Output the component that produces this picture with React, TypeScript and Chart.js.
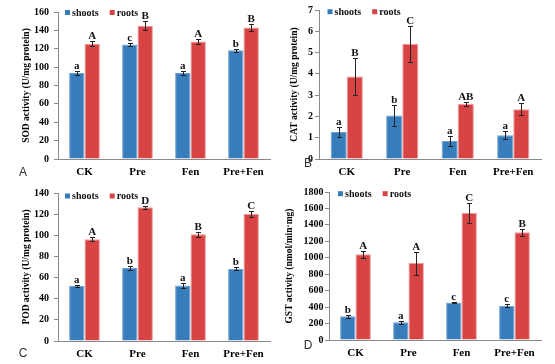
import React, { useEffect, useRef } from "react";
import { Chart, registerables } from "chart.js";

Chart.register(...registerables);

// ---------- data ----------
const categories = ["CK", "Pre", "Fen", "Pre+Fen"];
const seriesNames = ["shoots", "roots"];

const sodShoots = [93.5, 124.5, 93.5, 118.5];
const sodShootsErr = [2, 1.5, 2, 1.5];
const sodRoots = [125.5, 145, 128, 143];
const sodRootsErr = [3, 5, 3, 3.5];
const sodShootsLetters = ["a", "c", "a", "b"];
const sodRootsLetters = ["A", "B", "A", "B"];

const catShoots = [1.27, 2.04, 0.85, 1.12];
const catShootsErr = [0.24, 0.48, 0.23, 0.19];
const catRoots = [3.88, 5.42, 2.58, 2.34];
const catRootsErr = [0.85, 0.84, 0.1, 0.29];
const catShootsLetters = ["a", "b", "a", "a"];
const catRootsLetters = ["B", "C", "AB", "A"];

const podShoots = [52, 69, 52.5, 68.2];
const podShootsErr = [1, 1.8, 2.5, 1.5];
const podRoots = [96.2, 126.6, 101, 120.2];
const podRootsErr = [1.8, 1.5, 2.5, 2.5];
const podShootsLetters = ["a", "b", "a", "b"];
const podRootsLetters = ["A", "D", "B", "C"];

const gstShoots = [288, 215, 455, 418];
const gstShootsErr = [22, 20, 10, 22];
const gstRoots = [1042, 935, 1546, 1310];
const gstRootsErr = [40, 140, 118, 40];
const gstShootsLetters = ["b", "a", "c", "c"];
const gstRootsLetters = ["A", "A", "C", "B"];

const yTitles = [
  "SOD activity (U/mg protein)",
  "CAT activity (U/mg protein)",
  "POD activity (U/mg protein)",
  "GST activity (nmol/min·mg)",
];
const panelLetters = ["A", "B", "C", "D"];
const yMaxes = [160, 7, 140, 1800];
const ySteps = [20, 1, 20, 200];

// ---------- styles / layout ----------
const SHOOT_COLOR = "#377dbb";
const SHOOT_BORDER = "#6f9fcf";
const ROOT_COLOR = "#d84444";
const ROOT_BORDER = "#ec9a9a";
const SERIF = "'Liberation Serif', 'Times New Roman', serif";

type Layout = {
  left: number; top: number; w: number; h: number;
  areaLeft: number; areaRight: number; areaTop: number; areaBottom: number;
  titleX: number; tickPad: number; legendDx: number; legendDy: number; letterX: number; letterY: number;
};

const layouts: Layout[] = [
  { left: 0, top: 0, w: 277, h: 182, areaLeft: 58, areaRight: 270, areaTop: 12, areaBottom: 159, titleX: 27, tickPad: 5, legendDx: 7, legendDy: 0.5, letterX: 23, letterY: 173 },
  { left: 277, top: 0, w: 278, h: 182, areaLeft: 42, areaRight: 264, areaTop: 10, areaBottom: 159, titleX: 18, tickPad: 2, legendDx: 8.5, legendDy: 1.7, letterX: 31, letterY: 164 },
  { left: 0, top: 182, w: 277, h: 182, areaLeft: 58, areaRight: 270, areaTop: 9, areaBottom: 159, titleX: 27, tickPad: 5, legendDx: 7, legendDy: 3, letterX: 23, letterY: 172 },
  { left: 277, top: 182, w: 278, h: 182, areaLeft: 52, areaRight: 264, areaTop: 10, areaBottom: 158, titleX: 13, tickPad: 1.5, legendDx: 9, legendDy: 1.7, letterX: 31, letterY: 164 },
];

type PanelData = {
  shoots: number[]; shootsErr: number[]; roots: number[]; rootsErr: number[];
  shootsLetters: string[]; rootsLetters: string[];
};

const panels: PanelData[] = [
  { shoots: sodShoots, shootsErr: sodShootsErr, roots: sodRoots, rootsErr: sodRootsErr, shootsLetters: sodShootsLetters, rootsLetters: sodRootsLetters },
  { shoots: catShoots, shootsErr: catShootsErr, roots: catRoots, rootsErr: catRootsErr, shootsLetters: catShootsLetters, rootsLetters: catRootsLetters },
  { shoots: podShoots, shootsErr: podShootsErr, roots: podRoots, rootsErr: podRootsErr, shootsLetters: podShootsLetters, rootsLetters: podRootsLetters },
  { shoots: gstShoots, shootsErr: gstShootsErr, roots: gstRoots, rootsErr: gstRootsErr, shootsLetters: gstShootsLetters, rootsLetters: gstRootsLetters },
];

function makeAnnotPlugin(p: PanelData, lay: Layout, letter: string) {
  return {
    id: "annot_" + letter,
    afterDatasetsDraw(chart: any) {
      const { ctx, chartArea } = chart;
      const y = chart.scales.y;
      const errs = [p.shootsErr, p.rootsErr];
      const letters = [p.shootsLetters, p.rootsLetters];
      ctx.save();
      chart.data.datasets.forEach((ds: any, i: number) => {
        const meta = chart.getDatasetMeta(i);
        meta.data.forEach((el: any, j: number) => {
          const v = ds.data[j];
          const e = errs[i][j];
          const yt = Math.round(y.getPixelForValue(v + e)) + 0.5;
          const yb = Math.round(y.getPixelForValue(v - e)) + 0.5;
          const x = Math.round(el.x) + 0.5;
          ctx.strokeStyle = "#222";
          ctx.lineWidth = 1;
          ctx.beginPath();
          ctx.moveTo(x, yt);
          ctx.lineTo(x, yb);
          ctx.moveTo(x - 2.5, yt);
          ctx.lineTo(x + 2.5, yt);
          ctx.moveTo(x - 2.5, yb);
          ctx.lineTo(x + 2.5, yb);
          ctx.stroke();
          ctx.fillStyle = "#111";
          ctx.font = "bold 11px " + SERIF;
          ctx.textAlign = "center";
          ctx.textBaseline = "alphabetic";
          ctx.fillText(letters[i][j], el.x, yt - 3);
        });
      });
      // legend
      const colors = [SHOOT_COLOR, ROOT_COLOR];
      let lx = chartArea.left + lay.legendDx;
      const ly = chartArea.top + lay.legendDy;
      ctx.font = "bold 10px " + SERIF;
      ctx.textAlign = "left";
      ctx.textBaseline = "middle";
      seriesNames.forEach((name, i) => {
        ctx.fillStyle = colors[i];
        ctx.fillRect(lx, ly - 2.5, 5, 5);
        ctx.fillStyle = "#111";
        ctx.fillText(name, lx + 7, ly + 0.5);
        lx += 7 + ctx.measureText(name).width + 11;
      });
      // panel letter
      ctx.font = "12px 'Liberation Sans', Arial, sans-serif";
      ctx.fillStyle = "#333";
      ctx.textAlign = "center";
      ctx.textBaseline = "middle";
      ctx.fillText(letter, lay.letterX, lay.letterY);
      ctx.restore();
    },
  };
}

function PanelChart({ idx }: { idx: number }) {
  const ref = useRef<HTMLCanvasElement | null>(null);
  const lay = layouts[idx];
  const p = panels[idx];
  useEffect(() => {
    if (!ref.current) return;
    const chart = new Chart(ref.current, {
      type: "bar",
      data: {
        labels: categories,
        datasets: [
          {
            label: seriesNames[0],
            data: p.shoots,
            backgroundColor: SHOOT_COLOR,
            borderColor: SHOOT_BORDER,
            borderWidth: 1,
            categoryPercentage: 0.58,
            barPercentage: 1,
          },
          {
            label: seriesNames[1],
            data: p.roots,
            backgroundColor: ROOT_COLOR,
            borderColor: ROOT_BORDER,
            borderWidth: 1,
            categoryPercentage: 0.58,
            barPercentage: 1,
          },
        ],
      },
      options: {
        responsive: false,
        animation: false,
        devicePixelRatio: 1,
        layout: {
          padding: { left: 0, right: lay.w - lay.areaRight, top: lay.areaTop, bottom: 0 },
        },
        plugins: {
          legend: { display: false },
          tooltip: { enabled: false },
        },
        scales: {
          x: {
            type: "category",
            grid: { display: false, drawTicks: false },
            border: { display: true, color: "#8a8a8a", width: 1 },
            ticks: {
              color: "#000",
              padding: 7,
              maxRotation: 0,
              autoSkip: false,
              font: { family: SERIF, size: 11, weight: "bold" },
            },
            afterFit: (s: any) => {
              s.height = lay.h - lay.areaBottom;
            },
          },
          y: {
            min: 0,
            max: yMaxes[idx],
            ticks: {
              stepSize: ySteps[idx],
              color: "#000",
              padding: lay.tickPad,
              font: { family: SERIF, size: 10, weight: "bold" },
              callback: (v: any) => String(v),
            },
            grid: {
              display: true,
              drawOnChartArea: false,
              drawTicks: true,
              tickLength: 4,
              color: "#8a8a8a",
            },
            border: { display: true, color: "#8a8a8a", width: 1 },
            title: {
              display: true,
              text: yTitles[idx],
              color: "#000",
              font: { family: SERIF, size: 9.5, weight: "bold" },
              padding: { top: lay.titleX - 5.7, bottom: 0 },
            },
            afterFit: (s: any) => {
              s.width = lay.areaLeft;
            },
          },
        },
      } as any,
      plugins: [makeAnnotPlugin(p, lay, panelLetters[idx])],
    });
    return () => chart.destroy();
  }, [idx]);
  return (
    <canvas
      ref={ref}
      width={lay.w}
      height={lay.h}
      style={{ position: "absolute", left: lay.left, top: lay.top, width: lay.w, height: lay.h }}
    />
  );
}

export default function App() {
  return (
    <div
      style={{
        position: "fixed",
        left: 0,
        top: 0,
        width: 555,
        height: 364,
        background: "#fff",
        overflow: "hidden",
      }}
    >
      {[0, 1, 2, 3].map((i) => (
        <PanelChart key={i} idx={i} />
      ))}
    </div>
  );
}
